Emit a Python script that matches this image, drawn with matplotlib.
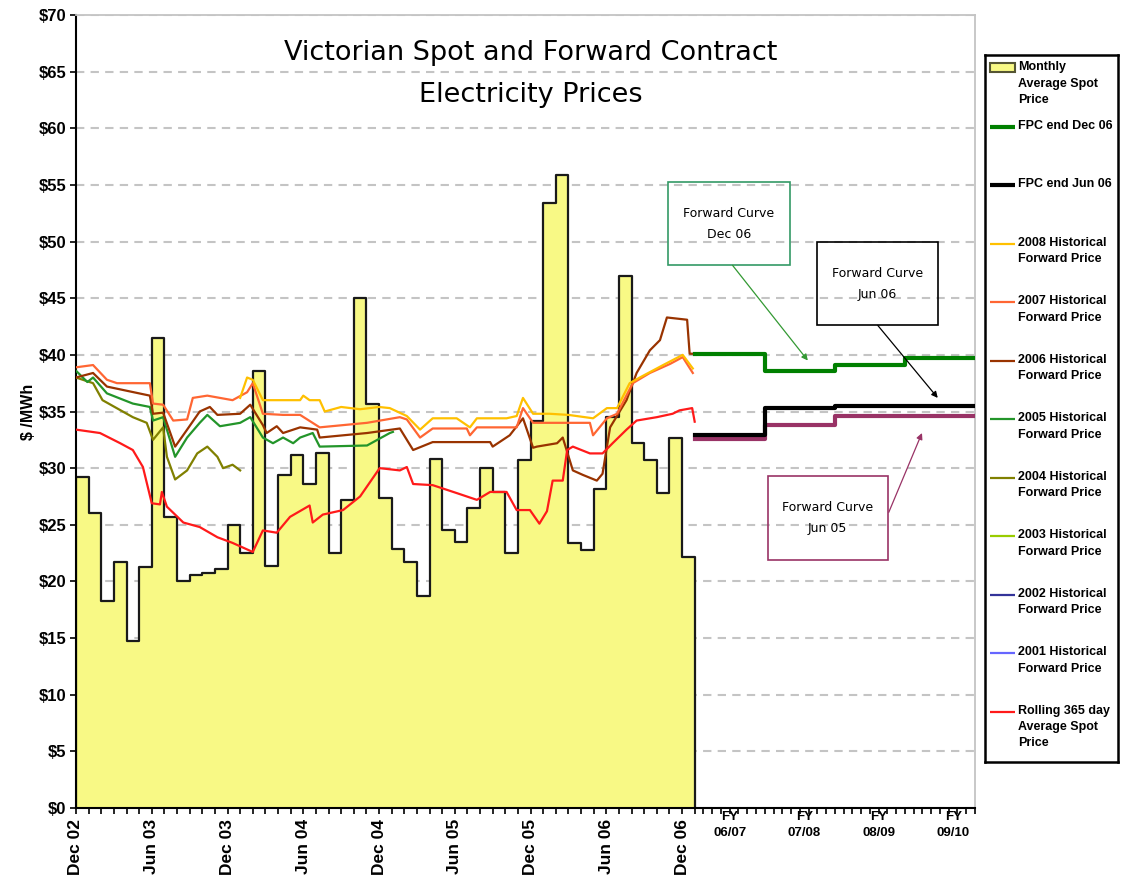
import matplotlib
matplotlib.use('Agg')
import matplotlib.pyplot as plt
import matplotlib.transforms as mtransforms
from matplotlib.patches import Rectangle
import numpy as np

# monthly average spot price, Dec 02 .. Dec 06 ($/MWh)
spot_monthly = [29.2, 26.0, 18.3, 21.7, 14.7, 21.3, 41.5, 25.7, 20.0, 20.6, 20.7, 21.1,
                25.0, 22.5, 38.6, 21.4, 29.4, 31.2, 28.6, 31.3, 22.5, 27.2, 45.0, 35.7,
                27.4, 22.9, 21.7, 18.7, 30.8, 24.5, 23.5, 26.5, 30.0, 27.9, 22.5, 30.7,
                34.2, 53.4, 55.9, 23.4, 22.8, 28.2, 34.5, 47.0, 32.2, 30.7, 27.8, 32.7, 22.2]

# historical forward prices (months after Dec 02, $/MWh)
fwd2008_m = [13.0, 13.55, 14.0, 14.8, 16.0, 17.75, 18.0, 18.5, 19.3, 19.7, 21.0, 22.5, 24.0, 24.85,
             26.2, 27.25, 28.25, 30.15, 31.2, 31.75, 34.1, 34.9, 35.4, 36.2, 37.5, 39.0, 40.95,
             42.05, 42.85, 43.85, 44.65, 46.5, 48.05, 48.85]
fwd2008_v = [36.2, 38.0, 37.8, 36.0, 36.0, 36.0, 36.4, 36.0, 36.0, 35.0, 35.4, 35.2, 35.4, 35.3,
             34.6, 33.4, 34.4, 34.4, 33.6, 34.4, 34.4, 34.6, 36.2, 34.8, 34.8, 34.7, 34.4,
             35.3, 35.3, 37.5, 38.0, 39.1, 40.0, 38.8]

fwd2007_m = [0, 1.35, 2.45, 3.25, 5.85, 6.1, 6.9, 7.7, 8.8, 9.25, 10.4, 12.4, 13.55, 14.0, 14.8,
             16.4, 17.75, 19.3, 23.05, 25.65, 26.2, 27.25, 28.25, 30.95, 31.2, 31.75, 34.9, 35.4,
             36.2, 37.5, 40.7, 40.95, 42.05, 42.85, 44.1, 45.45, 47.05, 48.05, 48.85]
fwd2007_v = [38.9, 39.1, 37.8, 37.5, 37.5, 35.7, 35.6, 34.2, 34.3, 36.2, 36.4, 36.0, 36.7, 37.5, 34.8,
             34.7, 34.7, 33.6, 34.0, 34.5, 34.3, 32.7, 33.5, 33.5, 32.9, 33.6, 33.6, 35.3,
             34.0, 34.0, 34.0, 32.9, 34.4, 34.8, 37.5, 38.4, 39.2, 39.8, 38.4]

fwd2006_m = [0, 1.35, 2.45, 5.85, 6.1, 6.9, 7.85, 8.8, 9.8, 10.6, 11.2, 13.0, 13.8, 14.8, 15.1,
             15.9, 16.4, 17.75, 19.1, 19.3, 23.05, 25.65, 26.7, 28.25, 32.8, 33.0, 34.35, 35.4,
             36.2, 36.5, 38.1, 38.55, 39.35, 40.15, 41.25, 41.7, 42.3, 43.6, 44.4, 45.45, 46.25,
             46.8, 48.4, 48.6, 49.0]
fwd2006_v = [38.0, 38.4, 37.2, 36.4, 34.8, 34.9, 31.9, 33.4, 35.0, 35.4, 34.7, 34.8, 35.6, 33.8, 33.1,
             33.7, 33.1, 33.6, 33.4, 32.7, 33.1, 33.5, 31.6, 32.3, 32.3, 31.9, 32.9, 34.4,
             31.8, 31.9, 32.2, 32.7, 29.8, 29.4, 28.9, 29.5, 33.6, 36.0, 38.4, 40.4, 41.3,
             43.3, 43.1, 40.1, 40.1]

fwd2005_m = [0, 0.9, 1.35, 2.45, 4.5, 5.85, 6.1, 6.9, 7.85, 8.8, 9.8, 10.4, 11.4, 13.0, 13.8,
             14.8, 15.6, 16.4, 17.2, 17.75, 18.75, 19.3, 23.05, 24.85, 25.1]
fwd2005_v = [38.6, 37.6, 38.0, 36.6, 35.7, 35.4, 34.2, 34.5, 31.0, 32.7, 34.0, 34.7, 33.7, 34.0, 34.5,
             32.7, 32.2, 32.7, 32.2, 32.7, 33.1, 31.9, 32.0, 33.1, 33.2]

fwd2004_m = [0, 1.35, 2.1, 4.5, 5.6, 6.1, 6.9, 7.2, 7.85, 8.8, 9.6, 10.4, 11.2, 11.65, 12.4, 13.0]
fwd2004_v = [38.0, 37.5, 36.0, 34.5, 34.0, 32.5, 33.6, 31.0, 29.0, 29.8, 31.3, 31.9, 31.0, 30.0, 30.3, 29.8]

rolling_m = [0, 1.9, 3.5, 4.5, 5.3, 6.0, 6.65, 6.8, 7.2, 8.5, 9.8, 11.2, 12.4, 14.0, 14.8, 15.9,
             16.95, 18.5, 18.75, 19.55, 21.15, 22.5, 24.05, 25.65, 26.2, 26.7, 28.25, 30.15, 31.75,
             32.8, 34.1, 34.9, 35.95, 36.7, 37.3, 37.75, 38.55, 38.9, 39.35, 40.7, 41.7, 42.5,
             43.6, 44.4, 46.0, 47.25, 47.8, 48.8, 49.0]
rolling_v = [33.4, 33.1, 32.2, 31.6, 30.1, 26.9, 26.8, 27.9, 26.6, 25.2, 24.8, 23.9, 23.4, 22.6, 24.5, 24.3,
             25.7, 26.7, 25.2, 25.9, 26.3, 27.5, 30.0, 29.8, 30.1, 28.6, 28.5, 27.8, 27.2,
             27.9, 27.9, 26.3, 26.3, 25.1, 26.2, 28.9, 28.9, 31.6, 31.9, 31.3, 31.3, 32.2,
             33.4, 34.2, 34.5, 34.8, 35.1, 35.3, 34.1]

# forward price curves by financial year
fy_labels = ['FY\n06/07', 'FY\n07/08', 'FY\n08/09', 'FY\n09/10']
fpc_dec06 = [40.1, 38.6, 39.1, 39.7]
fpc_jun06 = [32.9, 35.3, 35.5, 35.5]
fpc_jun05 = [32.6, 33.8, 34.6, 34.6]

month_labels = ['Dec 02', 'Jun 03', 'Dec 03', 'Jun 04', 'Dec 04',
                'Jun 05', 'Dec 05', 'Jun 06', 'Dec 06']

legend_items = [
    ('Monthly\nAverage Spot\nPrice', '#F8F985', 'patch'),
    ('FPC end Dec 06', '#008000', 3.0),
    ('FPC end Jun 06', '#000000', 3.0),
    ('2008 Historical\nForward Price', '#FFC000', 1.6),
    ('2007 Historical\nForward Price', '#FF6633', 1.6),
    ('2006 Historical\nForward Price', '#993300', 1.6),
    ('2005 Historical\nForward Price', '#23952A', 1.6),
    ('2004 Historical\nForward Price', '#808000', 1.6),
    ('2003 Historical\nForward Price', '#99CC00', 1.6),
    ('2002 Historical\nForward Price', '#333399', 1.6),
    ('2001 Historical\nForward Price', '#6666FF', 1.6),
    ('Rolling 365 day\nAverage Spot\nPrice', '#FF1A1A', 1.6),
]

plt.rcParams['font.family'] = ['Liberation Sans', 'DejaVu Sans']

W, H = 1124, 891
fig = plt.figure(figsize=(W / 100, H / 100), dpi=100)
ax = fig.add_axes([76 / W, (H - 808) / H, (975 - 76) / W, (808 - 15) / H])

n = len(spot_monthly)
edges = np.arange(n + 1)
fy_start = float(n)
x_end = 71.2
fy_width = (x_end - fy_start) / len(fy_labels)
fy_edges = fy_start + fy_width * np.arange(len(fy_labels) + 1)

# monthly average spot as a stepped area
ax.fill_between(edges, spot_monthly + [spot_monthly[-1]], step='post',
                color='#F8F985', lw=0, zorder=1)
ax.plot([0] + list(edges) + [n], [0] + spot_monthly + [spot_monthly[-1], 0],
        drawstyle='steps-post', color='#1a1a1a', lw=1.6, zorder=2)

# historical forward prices and rolling average
ax.plot(fwd2004_m, fwd2004_v, color='#808000', lw=1.6, zorder=3)
ax.plot(fwd2005_m, fwd2005_v, color='#23952A', lw=1.6, zorder=3)
ax.plot(fwd2006_m, fwd2006_v, color='#993300', lw=1.6, zorder=3)
ax.plot(fwd2007_m, fwd2007_v, color='#FF6633', lw=1.6, zorder=3)
ax.plot(fwd2008_m, fwd2008_v, color='#FFC000', lw=1.6, zorder=3)
ax.plot(rolling_m, rolling_v, color='#FF1A1A', lw=1.6, zorder=3)

# forward curves
ax.step(fy_edges, fpc_jun05 + [fpc_jun05[-1]], where='post', color='#993366', lw=3, zorder=4)
ax.step(fy_edges, fpc_jun06 + [fpc_jun06[-1]], where='post', color='#000000', lw=3, zorder=5)
ax.step(fy_edges, fpc_dec06 + [fpc_dec06[-1]], where='post', color='#008000', lw=3, zorder=5)

ax.set_xlim(0, x_end)
ax.set_ylim(0, 70)

ax.set_yticks(np.arange(0, 71, 5))
ax.set_yticklabels(['$%d' % v for v in range(0, 71, 5)], fontsize=12, fontweight='bold')
ax.yaxis.grid(True, linestyle=(0, (4, 3)), color='#C4C4C4', lw=1.5)
ax.set_axisbelow(True)

ax.set_xticks(np.arange(0, n, 6))
ax.set_xticklabels(month_labels, rotation=90, fontsize=12.5, fontweight='bold', va='top')
minor = list(np.arange(0, n)) + list(fy_start + fy_width / 8 * np.arange(33))
ax.set_xticks(minor, minor=True)
ax.tick_params(axis='both', which='both', direction='out', length=4, width=1.2, color='black')
ax.tick_params(axis='x', which='major', pad=4)
ax.tick_params(axis='y', pad=3)

for s in ['left', 'bottom']:
    ax.spines[s].set_linewidth(1.5)
    ax.spines[s].set_color('black')
for s in ['top', 'right']:
    ax.spines[s].set_linewidth(1.3)
    ax.spines[s].set_color('#C4C4C4')

ax.set_ylabel('$ /MWh', fontsize=11.5, fontweight='bold')
ax.yaxis.set_label_coords(-0.0445, 0.5)

trans = mtransforms.blended_transform_factory(ax.transData, ax.transAxes)
for i, lab in enumerate(fy_labels):
    ax.text(fy_start + fy_width * (i + 0.5) + 0.35 * i, -0.004, lab, transform=trans,
            ha='center', va='top', fontsize=9.5, fontweight='bold', linespacing=1.45)

ax.text(36.0, 64.8, 'Victorian Spot and Forward Contract\nElectricity Prices',
        ha='center', va='center', fontsize=19.5, linespacing=1.8,
        family=['DejaVu Sans'])

# annotation boxes
boxes = [
    ('Forward Curve\nDec 06', (46.87, 47.93, 9.66, 7.32), '#339966', (52.0, 47.9), (57.96, 39.5), '#339933'),
    ('Forward Curve\nJun 06', (58.67, 42.63, 9.58, 7.33), '#000000', (63.5, 42.6), (68.25, 36.2), '#000000'),
    ('Forward Curve\nJun 05', (54.79, 21.9, 9.5, 7.4), '#993366', (64.37, 26.1), (67.0, 33.1), '#993366'),
]
for text, (bx, by, bw, bh), ec, p0, p1, ac in boxes:
    ax.add_patch(Rectangle((bx, by), bw, bh, fill=False, ec=ec, lw=1.2, zorder=6))
    ax.text(bx + bw / 2, by + bh / 2, text, ha='center', va='center', fontsize=9,
            linespacing=1.8, family=['DejaVu Sans'], zorder=6)
    ax.annotate('', xy=p1, xytext=p0,
                arrowprops=dict(arrowstyle='-|>', color=ac, lw=0.9, mutation_scale=9,
                                shrinkA=0, shrinkB=0), zorder=6)

# legend panel
lx0, lx1, ly0, ly1 = 985, 1118, 55, 762
lax = fig.add_axes([lx0 / W, (H - ly1) / H, (lx1 - lx0) / W, (ly1 - ly0) / H])
lax.set_xlim(lx0, lx1)
lax.set_ylim(ly1, ly0)
lax.set_xticks([])
lax.set_yticks([])
for s in lax.spines.values():
    s.set_linewidth(1.8)
    s.set_color('black')
for i, (lab, col, style) in enumerate(legend_items):
    y = 68.5 + 58.5 * i
    if style == 'patch':
        lax.add_patch(Rectangle((990, y - 5), 25, 9, fc=col, ec='#555533', lw=1.5))
    else:
        lax.plot([990, 1015], [y, y], color=col, lw=style, solid_capstyle='butt')
    lax.text(1018, y - 7, lab, ha='left', va='top', fontsize=9, fontweight='bold',
             linespacing=1.45)

fig.savefig('out.png', dpi=100, facecolor='white')
